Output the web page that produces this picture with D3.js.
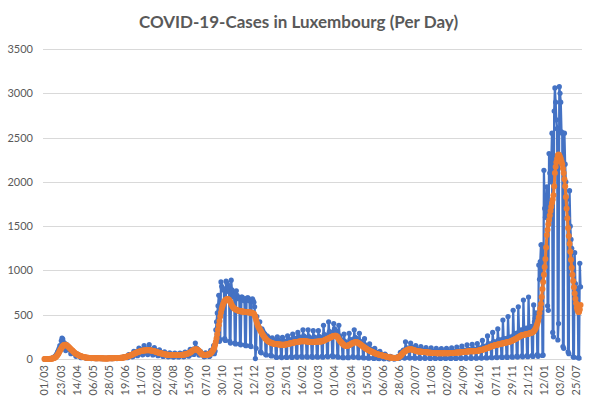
<!doctype html>
<html>
  <head>
    <meta charset="utf-8">
    <title>COVID-19-Cases in Luxembourg (Per Day)</title>
    <script src="https://cdnjs.cloudflare.com/ajax/libs/d3/7.8.5/d3.min.js"></script>
    <style>
      body { margin: 0; background: #fff; }
      text { font-family: Lato, "Open Sans", sans-serif; fill: #595959; }
    </style>
  </head>
  <body>
    <div id="chart"></div>
    <script>
      // tick labels, one every 22 days
      const tickLabels = ["01/03","23/03","14/04","06/05","28/05","19/06","11/07","02/08","24/08","15/09",
        "07/10","30/10","20/11","12/12","03/01","25/01","16/02","10/03","01/04","23/04","15/05","06/06",
        "28/06","20/07","11/08","02/09","24/09","16/10","07/11","29/11","21/12","12/01","03/02","25/07"];
      const tickStep = 22;
      const yTicks = [0, 500, 1000, 1500, 2000, 2500, 3000, 3500];

      // daily cases (blue)
      const cases = [
        0,0,1,0,1,2,3, 2,1,5,7,10,14,21, 28,25,48,60,81,98,120, 150,110,205,235,225,190,160,
        175,95,165,150,130,120,105, 110,60,90,95,80,70,65, 60,30,50,55,45,40,35, 32,15,28,25,22,20,18,
        16,8,14,15,12,13,11, 11,5,10,12,10,9,10, 9,4,9,10,8,9,8, 8,3,8,9,7,8,7,
        8,4,7,9,10,9,8, 9,4,10,11,12,10,11, 12,5,12,14,14,13,15, 16,8,18,21,22,24,27,
        29,14,19,51,43,44,43, 53,25,32,87,71,73,70, 84,38,47,123,98,97,90, 106,47,57,150,112,108,99,
        115,50,60,162,113,107,95, 107,46,53,130,98,90,79, 87,37,42,102,76,70,62, 69,29,34,81,60,55,49,
        55,24,28,69,52,50,45, 52,22,27,66,52,50,45, 52,23,27,68,52,51,46, 54,24,30,78,62,62,58,
        70,32,41,110,91,95,93, 113,51,64,180,126,119,104, 100,45,48,85,62,55,48, 55,24,28,69,54,53,50,
        60,28,36,99,85,92,96, 150,60,90,330,420,520,600, 720,200,220,870,820,800,780, 790,230,210,880,860,840,800,
        760,200,180,890,780,740,700, 720,180,170,770,720,700,680, 690,170,160,700,700,680,660, 680,160,150,680,690,690,660,
        660,150,140,670,680,660,640, 590,5,120,480,400,380,360, 420,80,70,340,320,300,290, 280,50,45,260,250,240,230,
        230,40,35,240,220,210,200, 205,25,17,250,215,205,197, 196,24,16,245,209,201,194, 200,25,17,260,222,216,210,
        215,27,18,280,240,234,227, 230,29,19,300,255,246,238, 240,30,20,330,261,250,240, 236,29,20,330,254,243,232,
        230,29,19,320,250,243,235, 236,29,20,320,255,245,238, 240,30,21,380,275,268,262, 270,34,24,420,310,303,295,
        300,38,26,400,340,330,315, 290,30,20,380,260,230,210, 190,20,15,280,200,190,180, 180,20,15,290,215,210,205,
        220,28,19,330,245,240,230, 200,25,15,290,200,190,180, 165,20,12,230,160,150,140, 120,14,9,170,115,110,100,
        88,10,7,120,82,78,72, 60,7,5,85,57,54,50, 42,5,3,56,37,34,31, 24,3,2,30,21,19,18,
        14,2,1,20,14,16,20, 30,8,10,75,62,72,85, 100,15,10,195,120,118,115, 125,16,11,180,135,130,125,
        110,14,9,150,112,108,102, 100,12,8,140,105,100,96, 92,11,8,130,96,92,88, 85,10,7,125,90,87,84,
        80,10,7,120,86,83,80, 77,10,6,118,84,81,78, 77,10,6,120,85,82,80, 80,10,7,125,88,86,84,
        85,11,7,135,94,92,90, 90,11,8,145,100,98,96, 98,12,8,160,110,107,104, 104,12,8,165,115,112,108,
        108,13,9,175,122,118,115, 125,15,10,210,140,135,130, 145,18,12,260,170,165,160, 170,20,14,300,195,190,185,
        195,22,16,340,215,210,205, 215,24,17,440,230,225,215, 230,26,18,480,245,240,235, 250,28,20,550,270,265,260,
        290,32,22,590,310,305,300, 330,35,25,665,340,330,320, 350,38,26,700,355,345,335, 370,40,28,610,420,460,520,
        500,50,30,1060,900,1100,1290, 1290,40,45,2130,1700,1600,1700, 1945,600,550,2320,2100,2000,2200,
        2550,300,250,2800,3060,2900,2700, 2600,215,400,3075,3000,2900,2565, 2550,140,120,2550,2200,2000,1800,
        1700,80,60,1900,1500,1350,1250, 1100,25,20,1200,850,750,700, 800,15,10,1080,815
      ];

      // 7-day average (orange)
      const avg7 = [
        0,0,0,0,0,1,1, 1,2,3,4,6,8,11, 15,20,27,36,47,60,75, 92,108,122,135,146,154,159,
        161,160,156,150,143,135,127, 119,111,103,95,87,79,71, 65,60,55,50,46,42,38, 35,32,29,26,23,21,19,
        17,16,15,14,13,12,12, 11,11,10,10,10,9,9, 9,9,9,8,8,8,8, 8,8,8,7,7,7,7,
        7,7,7,7,8,8,8, 8,8,9,9,9,10,10, 10,10,11,11,12,12,13, 14,15,16,17,18,20,22,
        25,28,31,34,37,40,43, 46,50,54,58,62,66,70, 73,76,79,82,85,88,90, 92,94,95,96,97,98,99,
        100,100,100,99,98,97,95, 93,91,89,87,85,82,79, 76,73,70,68,66,64,62, 60,58,56,54,52,50,49,
        48,47,46,46,45,45,45, 45,45,45,45,45,45,45, 45,45,45,45,45,46,46, 47,48,50,52,54,56,58,
        61,64,68,73,79,86,93, 98,102,106,108,110,108,104, 98,90,80,70,60,54,50, 48,47,46,46,47,48,50,
        52,55,60,66,74,84,96, 110,130,160,195,235,280,330, 380,430,480,525,565,595,620, 640,655,665,672,676,678,675,
        668,655,640,622,605,590,578, 570,565,560,556,552,548,545, 542,540,538,537,536,535,534, 533,532,531,530,529,528,527,
        526,525,523,521,518,515,510, 495,470,440,410,385,365,350, 335,320,305,290,275,262,250, 238,228,218,210,203,197,192,
        188,184,180,177,175,173,171, 170,169,168,167,166,165,164, 163,162,162,161,161,161,162, 163,165,167,169,171,173,175,
        177,179,181,183,185,187,189, 190,192,193,195,196,197,198, 199,200,200,201,201,200,200, 199,198,197,196,195,194,193,
        192,191,190,191,192,194,196, 196,196,197,197,197,198,198, 198,200,203,206,210,214,218, 222,226,230,234,238,242,246,
        250,254,257,260,262,263,262, 258,250,238,224,210,198,188, 180,172,165,158,153,150,148, 148,150,153,157,161,166,171,
        176,180,184,187,189,190,190, 188,184,178,172,166,160,154, 148,142,136,130,124,118,112, 107,102,98,94,90,86,82,
        78,74,70,66,63,60,57, 54,51,48,46,44,42,40, 38,36,33,30,28,26,24, 22,20,18,17,16,15,14,
        13,12,11,11,11,12,14, 17,22,28,35,43,52,61, 70,77,84,90,95,100,104, 107,109,110,110,109,107,105,
        102,99,96,93,90,88,86, 86,85,84,83,82,81,80, 79,78,77,76,75,74,73, 72,71,70,70,69,69,68,
        68,67,67,66,66,66,65, 65,65,64,64,64,64,64, 64,64,64,65,65,65,66, 66,67,67,68,68,69,69,
        70,70,71,72,72,73,74, 74,75,76,77,78,79,80, 81,82,83,84,85,86,87, 87,87,88,88,88,88,88,
        88,89,90,92,93,95,97, 99,101,103,105,107,110,113, 116,119,122,125,128,131,134, 137,140,143,146,149,152,155,
        157,159,161,163,165,167,169, 171,173,175,177,179,181,183, 185,187,189,191,193,195,197, 200,204,208,212,216,220,225,
        230,235,240,245,250,255,260, 265,268,270,272,274,276,278, 280,282,284,286,288,290,293, 296,300,305,312,322,335,350,
        375,400,430,470,520,570,620, 700,790,870,950,1040,1130,1260, 1400,1460,1520,1570,1620,1670,1720,
        1760,1800,1850,1950,2100,2170,2220, 2260,2300,2310,2300,2280,2260,2230, 2200,2150,2100,2030,1950,1830,1700,
        1590,1480,1390,1300,1210,1120,1030, 950,880,810,740,680,630,580, 550,530,530,560,610
      ];

      const days = d3.range(cases.length);
      const width = 597, height = 405;

      const svg = d3.select('#chart')
        .append('svg')
        .attr('width', width)
        .attr('height', height);

      const x = d3.scaleBand().domain(days).range([43, 582]).paddingOuter(1.5);
      const cx = i => x(i) + x.bandwidth() / 2;
      const y = d3.scaleLinear().domain([0, 3500]).range([359, 49]);

      // y axis with gridlines
      const yAxis = svg.append('g')
        .attr('transform', 'translate(43,0)')
        .call(d3.axisLeft(y).tickValues(yTicks).tickFormat(d3.format('d')).tickSize(-539).tickPadding(10));
      yAxis.select('.domain').remove();
      yAxis.selectAll('line').attr('stroke', '#d9d9d9').attr('shape-rendering', 'crispEdges');
      yAxis.selectAll('text').style('font-size', '11px').style('fill', '#595959');

      // x axis: rotated date labels
      const xAxis = svg.append('g')
        .attr('transform', 'translate(0,359)')
        .call(d3.axisBottom(x)
          .tickValues(tickLabels.map((d, j) => j * tickStep))
          .tickFormat(i => tickLabels[i / tickStep])
          .tickSize(0));
      xAxis.select('.domain').remove();
      xAxis.selectAll('text')
        .attr('transform', 'rotate(-90)')
        .attr('x', -6)
        .attr('y', 0)
        .attr('dy', '0.35em')
        .style('text-anchor', 'end')
        .style('font-size', '11px')
        .style('fill', '#595959');

      const line = d3.line().x((d, i) => cx(i)).y(d => y(d));

      // blue: daily cases
      svg.append('path')
        .datum(cases)
        .attr('d', line)
        .attr('fill', 'none')
        .attr('stroke', '#4472c4')
        .attr('stroke-width', 2.25)
        .attr('stroke-linejoin', 'round');
      svg.append('g').selectAll('circle')
        .data(cases)
        .join('circle')
        .attr('cx', (d, i) => cx(i))
        .attr('cy', d => y(d))
        .attr('r', 2.6)
        .attr('fill', '#4472c4');

      // orange: 7-day average
      svg.append('path')
        .datum(avg7)
        .attr('d', line)
        .attr('fill', 'none')
        .attr('stroke', '#ed7d31')
        .attr('stroke-width', 3)
        .attr('stroke-linejoin', 'round');
      svg.append('g').selectAll('circle')
        .data(avg7)
        .join('circle')
        .attr('cx', (d, i) => cx(i))
        .attr('cy', d => y(d))
        .attr('r', 3)
        .attr('fill', '#ed7d31');

      // title
      svg.append('text')
        .attr('x', 298.5)
        .attr('y', 28)
        .attr('text-anchor', 'middle')
        .style('font-size', '17px')
        .style('font-weight', 'bold')
        .style('fill', '#595959')
        .text('COVID-19-Cases in Luxembourg (Per Day)');
    </script>
  </body>
</html>
